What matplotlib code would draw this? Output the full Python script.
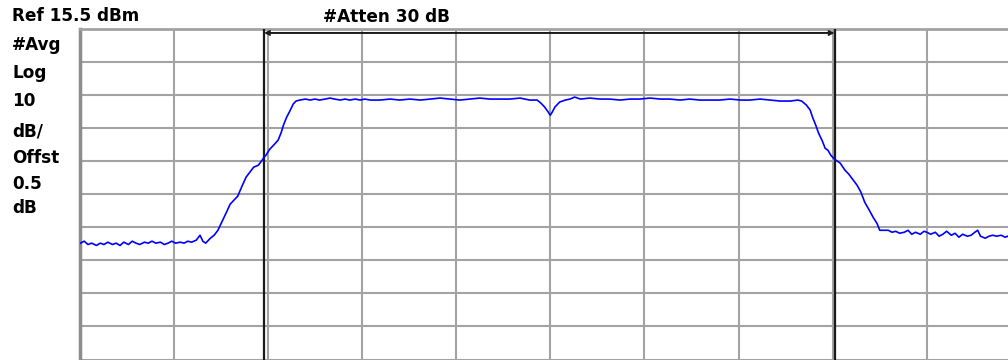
import matplotlib
matplotlib.use("Agg")
import matplotlib.pyplot as plt

# ---- data (x in graticule divisions, y in dBm) ----
ref_level = 15.5
db_per_div = 10
n_div = 10

freq_div = [0.01, 0.05, 0.09, 0.13, 0.18, 0.22, 0.26, 0.30, 0.35, 0.39, 0.43, 0.47, 0.52, 0.56,
            0.60, 0.64, 0.69, 0.73, 0.77, 0.81, 0.86, 0.90, 0.94, 0.98, 1.02, 1.07, 1.11, 1.15,
            1.19, 1.24, 1.28, 1.31, 1.34, 1.39, 1.43, 1.47, 1.51, 1.56, 1.60, 1.64, 1.68, 1.73,
            1.77, 1.81, 1.85, 1.90, 1.94, 1.96, 1.98, 2.02, 2.07, 2.11, 2.14, 2.17, 2.20, 2.24,
            2.27, 2.30, 2.34, 2.40, 2.45, 2.50, 2.55, 2.61, 2.66, 2.71, 2.77, 2.82, 2.87, 2.93,
            2.98, 3.03, 3.09, 3.19, 3.30, 3.40, 3.51, 3.62, 3.72, 3.83, 3.93, 4.04, 4.15, 4.25,
            4.36, 4.47, 4.57, 4.68, 4.78, 4.86, 4.90, 4.94, 4.98, 5.00, 5.02, 5.05, 5.10, 5.16,
            5.21, 5.26, 5.32, 5.42, 5.53, 5.63, 5.74, 5.85, 5.95, 6.06, 6.17, 6.27, 6.38, 6.48,
            6.59, 6.70, 6.80, 6.91, 7.02, 7.12, 7.23, 7.33, 7.44, 7.55, 7.63, 7.67, 7.72, 7.76,
            7.79, 7.82, 7.85, 7.89, 7.92, 7.95, 7.98, 8.02, 8.08, 8.13, 8.17, 8.22, 8.26, 8.30,
            8.34, 8.39, 8.43, 8.47, 8.50, 8.54, 8.59, 8.63, 8.67, 8.71, 8.76, 8.80, 8.84, 8.88,
            8.93, 8.97, 9.00, 9.04, 9.09, 9.13, 9.17, 9.21, 9.26, 9.30, 9.34, 9.38, 9.43, 9.47,
            9.51, 9.54, 9.57, 9.62, 9.66, 9.70, 9.74, 9.79, 9.83, 9.86]

level_dbm = [-49.3, -48.7, -49.7, -49.3, -50.0, -49.3, -49.7, -49.0, -49.7, -49.3, -50.0, -49.0, -49.7, -48.7,
             -49.3, -49.7, -49.0, -49.3, -48.7, -49.3, -49.0, -49.7, -49.3, -48.7, -49.3, -49.0, -49.3, -48.7,
             -49.0, -48.4, -46.9, -48.7, -49.3, -47.8, -46.9, -45.4, -43.0, -40.0, -37.5, -36.3, -35.1, -31.8,
             -29.3, -27.8, -26.3, -25.7, -24.2, -23.3, -22.7, -20.9, -19.4, -18.1, -16.0, -13.3, -11.2, -9.0,
             -7.2, -6.3, -6.0, -5.7, -6.0, -5.7, -6.0, -5.7, -5.4, -5.7, -6.0, -5.7, -6.0, -5.7,
             -6.0, -5.7, -6.0, -6.0, -5.7, -6.0, -5.7, -6.0, -5.7, -5.4, -5.7, -6.0, -5.7, -5.4,
             -5.7, -5.7, -5.7, -5.4, -6.0, -6.0, -6.9, -8.1, -9.7, -10.6, -9.7, -8.1, -6.6, -6.0,
             -5.7, -5.1, -5.7, -5.4, -5.7, -5.7, -6.0, -5.7, -5.7, -5.4, -5.7, -5.7, -6.0, -5.7,
             -6.0, -6.0, -6.0, -5.7, -6.0, -6.0, -5.7, -6.0, -6.3, -6.3, -6.0, -6.3, -7.5, -9.0,
             -11.5, -13.6, -16.0, -18.4, -20.6, -21.2, -22.7, -23.9, -25.1, -27.2, -28.4, -30.3, -31.8, -33.9,
             -36.9, -39.4, -41.5, -43.3, -45.4, -45.4, -45.4, -46.0, -45.7, -46.3, -46.0, -45.4, -46.6, -46.0,
             -46.6, -45.7, -46.0, -46.6, -46.0, -47.2, -46.6, -45.7, -46.9, -46.3, -47.5, -46.6, -47.2, -46.9,
             -46.0, -45.4, -47.2, -47.8, -47.2, -46.9, -47.2, -46.9, -47.5, -47.2]

marker_div = [1.96, 8.02]          # the two marker (delta) lines
texts_left = ["#Avg", "Log", "10", "dB/", "Offst", "0.5", "dB"]
title_left = "Ref 15.5 dBm"
title_mid = "#Atten 30 dB"

# ---- figure ----
W, H = 1008, 360
fig = plt.figure(figsize=(W / 100, H / 100), dpi=100)
fig.patch.set_facecolor("white")

px_left, px_top, px_bottom = 79.5, 29.0, 359.5
px_div = 94.15
ax = fig.add_axes([px_left / W, 1 - px_bottom / H, (W - px_left) / W, (px_bottom - px_top) / H])
xmax = (W - px_left) / px_div
bottom = ref_level - n_div * db_per_div
ax.set_xlim(0, xmax)
ax.set_ylim(bottom, ref_level)

grid_c = "#a3a3a3"
for i in range(1, n_div + 1):
    ax.axvline(i, color=grid_c, lw=1.5, zorder=1)
for j in range(0, n_div + 1):
    ax.axhline(bottom + j * db_per_div, color=grid_c, lw=1.5, zorder=1)

for s in ["right", "bottom"]:
    ax.spines[s].set_visible(False)
ax.spines["left"].set_color("#8c8c8c")
ax.spines["left"].set_linewidth(2.5)
ax.spines["top"].set_color(grid_c)
ax.spines["top"].set_linewidth(2.0)
ax.set_xticks([])
ax.set_yticks([])

# marker lines
for m in marker_div:
    ax.axvline(m, color="#1a1a1a", lw=1.6, zorder=3)
ax.annotate("", xy=(marker_div[1], ref_level - 1.2), xytext=(marker_div[0], ref_level - 1.2),
            arrowprops=dict(arrowstyle="<->", color="#1a1a1a", lw=1.4,
                            mutation_scale=7, shrinkA=0, shrinkB=0), zorder=4)

# trace
ax.plot(freq_div, level_dbm, color="#0000ff", lw=1.2, zorder=5)

# texts
font = dict(family="DejaVu Sans", weight="bold", size=12.2, color="black")
fig.text(12 / W, 1 - 21 / H, title_left, ha="left", va="baseline", **font)
fig.text(323 / W, 1 - 22 / H, title_mid, ha="left", va="baseline", **font)
baselines = [50, 78, 106, 136, 163, 189, 213]
for t, b in zip(texts_left, baselines):
    fig.text(12 / W, 1 - b / H, t, ha="left", va="baseline", **font)

fig.savefig("out.png", dpi=100, facecolor="white")
